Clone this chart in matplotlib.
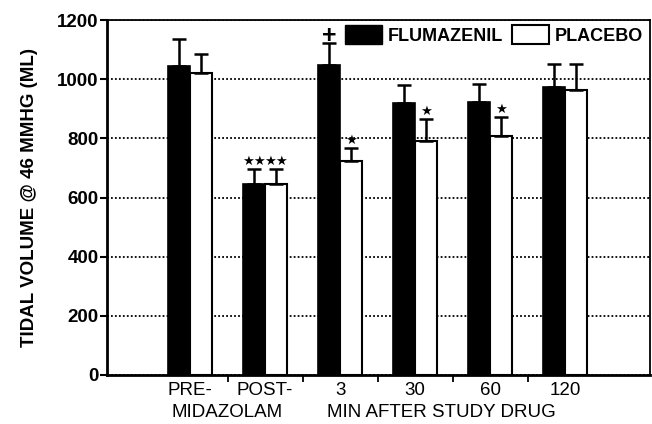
import matplotlib.pyplot as plt
from matplotlib.patches import Patch

plt.rcParams['font.family'] = ['Liberation Sans', 'DejaVu Sans']

# ---- DATA ----
groups = ["PRE-", "POST-", "3", "30", "60", "120"]
flumazenil = [1046, 647, 1048, 920, 923, 975]
flumazenil_err = [90, 50, 73, 60, 61, 76]
placebo = [1020, 645, 723, 792, 808, 963]
placebo_err = [65, 52, 43, 73, 63, 88]
flu_marks = ["", "★★", "+", "", "", ""]
pla_marks = ["", "★★", "★", "★", "★", ""]

x = list(range(1, len(groups) + 1))
w = 0.29

fig = plt.figure(figsize=(6.52, 4.24), dpi=100)
ax = fig.add_axes([0.164, 0.1156, 0.833, 0.837])

ax.set_axisbelow(True)
ax.yaxis.grid(True, color='black', linestyle=(0, (1, 1.2)), linewidth=1.3)

err_kw = dict(ecolor='black', elinewidth=1.8, capsize=5, capthick=1.8)
xf = [v - w / 2 for v in x]
xp = [v + w / 2 for v in x]
ax.bar(xf, flumazenil, w, color='black', edgecolor='black', linewidth=1.2,
       yerr=[[0] * 6, flumazenil_err], error_kw=err_kw, zorder=3)
ax.bar(xp, placebo, w, color='white', edgecolor='black', linewidth=1.5,
       yerr=[[0] * 6, placebo_err], error_kw=err_kw, zorder=3)

# ---- significance marks ----
def mark(xi, top, m):
    if m == "+":
        ax.annotate(m, (xi, top), xytext=(0, -3), textcoords='offset points',
                    ha='center', va='bottom', fontsize=18, fontweight='bold')
    elif m:
        ax.annotate(m, (xi, top), xytext=(0, 1), textcoords='offset points',
                    ha='center', va='bottom', fontsize=9.5, family='DejaVu Sans')

for xi, v, e, m in zip(xf, flumazenil, flumazenil_err, flu_marks):
    mark(xi, v + e, m)
for xi, v, e, m in zip(xp, placebo, placebo_err, pla_marks):
    mark(xi, v + e, m)

# ---- axes ----
ax.set_ylim(0, 1200)
ax.set_yticks(range(0, 1201, 200))
ax.set_xlim(-0.107, 7.13)
ax.set_xticks([v + 0.5 for v in x[:-1]])
ax.set_xticklabels([])
ax.set_xticks(x, minor=True)
ax.set_xticklabels(groups, minor=True, fontsize=13.5)
ax.tick_params(axis='x', which='minor', length=0, pad=5)
ax.tick_params(axis='x', which='major', length=5, width=1.3)
ax.tick_params(axis='y', length=5, width=1.5, labelsize=13.5, pad=1)
for lab in ax.get_yticklabels():
    lab.set_fontweight('bold')
for s in ax.spines.values():
    s.set_linewidth(1.3)
ax.spines['left'].set_linewidth(2)
ax.spines['bottom'].set_linewidth(2)

ax.text(1.5, -0.083, "MIDAZOLAM", transform=ax.get_xaxis_transform(),
        ha='center', va='top', fontsize=13.5)
ax.text(4.35, -0.083, "MIN AFTER STUDY DRUG", transform=ax.get_xaxis_transform(),
        ha='center', va='top', fontsize=13.5)

ax.set_ylabel("TIDAL VOLUME @ 46 MMHG (ML)", fontsize=13.5, fontweight='bold', labelpad=14)

handles = [Patch(facecolor='black', edgecolor='black'),
           Patch(facecolor='white', edgecolor='black', linewidth=1.5)]
ax.legend(handles, ["FLUMAZENIL", "PLACEBO"], ncol=2, loc='upper right',
          bbox_to_anchor=(0.987, 0.985), frameon=False,
          prop={'size': 13, 'weight': 'bold'}, handlelength=2.05, handleheight=1.2,
          handletextpad=0.33, columnspacing=0.5, borderaxespad=0, borderpad=0)

fig.savefig("out.png", dpi=100)
